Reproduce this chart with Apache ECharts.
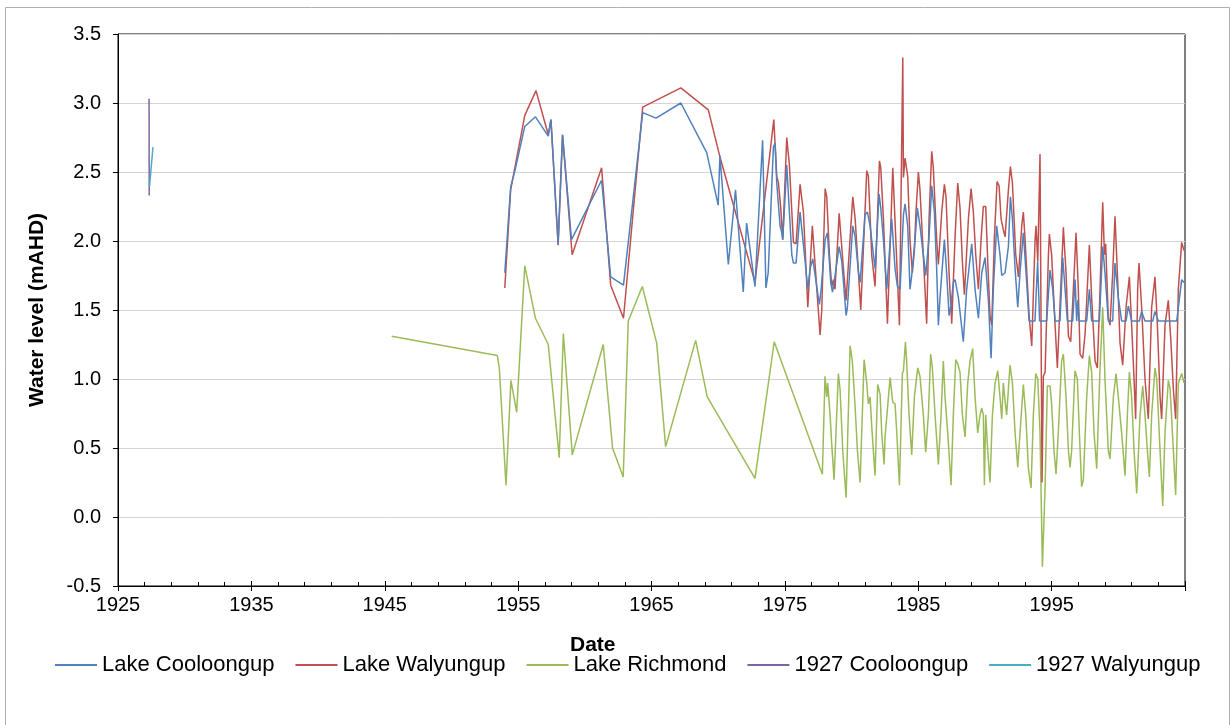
<!DOCTYPE html>
<html>
<head>
<meta charset="utf-8">
<script src="https://cdn.jsdelivr.net/npm/echarts@6/dist/echarts.min.js"></script>
<style>
html,body{margin:0;padding:0;background:#fff;}
#chart{width:1231px;height:725px;}
</style>
</head>
<body>
<div id="chart"></div>
<script>
// ---- data: [decimal year, water level mAHD] ----
var seriesNames = ['Lake Cooloongup', 'Lake Walyungup', 'Lake Richmond', '1927 Cooloongup', '1927 Walyungup'];
var yTicks = [-0.5, 0.0, 0.5, 1.0, 1.5, 2.0, 2.5, 3.0, 3.5];
var xTicks = [1925, 1935, 1945, 1955, 1965, 1975, 1985, 1995];

var cooloongup = [
[1954.00,1.77],[1954.44,2.39],[1954.76,2.51],[1955.50,2.83],[1956.30,2.90],[1957.26,2.76],[1957.46,2.88],[1958.00,1.98],[1958.33,2.77],[1959.00,2.01],
[1961.26,2.44],[1961.94,1.74],[1962.90,1.68],[1964.34,2.93],[1965.34,2.89],[1967.20,3.00],[1969.14,2.64],[1970.00,2.26],[1970.13,2.62],[1970.76,1.83],
[1971.30,2.37],[1971.88,1.63],[1972.13,2.13],[1972.76,1.67],[1973.33,2.73],[1973.58,1.66],[1973.75,1.77],
[1974.14,2.68],[1974.27,2.71],[1974.39,2.42],[1974.52,2.42],[1974.64,2.11],[1974.77,2.06],[1974.84,2.01],[1975.14,2.55],[1975.19,2.54],[1975.52,1.90],
[1975.64,1.84],[1975.84,1.84],[1976.14,2.21],[1976.52,1.85],[1976.72,1.65],[1976.89,1.80],[1977.09,1.87],[1977.39,1.67],[1977.59,1.54],[1977.72,1.65],
[1978.02,2.01],[1978.19,2.06],[1978.44,1.70],[1978.57,1.63],[1978.69,1.70],[1979.07,1.96],[1979.27,1.85],[1979.59,1.46],[1979.69,1.52],[1980.09,2.11],
[1980.27,2.03],[1980.52,1.77],[1980.64,1.70],[1981.01,2.19],[1981.19,2.21],[1981.39,2.11],[1981.64,1.90],[1981.77,1.80],[1982.06,2.34],[1982.19,2.24],
[1982.39,2.01],[1982.64,1.65],[1983.01,2.16],[1983.26,1.80],[1983.44,1.67],[1983.64,1.65],[1983.89,2.19],[1984.01,2.27],
[1984.21,2.11],[1984.38,1.65],[1984.51,1.75],[1984.76,2.01],[1984.93,2.24],[1985.13,2.11],[1985.38,1.90],[1985.56,1.75],[1985.81,2.03],[1986.01,2.40],
[1986.21,2.21],[1986.38,1.80],[1986.51,1.39],[1986.63,1.59],[1986.96,2.01],[1987.13,1.77],[1987.31,1.46],[1987.46,1.54],[1987.63,1.70],[1987.76,1.72],
[1988.01,1.59],[1988.38,1.27],[1988.63,1.65],[1989.01,1.98],[1989.26,1.65],[1989.51,1.44],[1989.76,1.77],[1990.01,1.88],[1990.26,1.57],[1990.46,1.15],
[1990.63,1.65],[1990.88,2.11],[1991.13,1.90],[1991.26,1.75],[1991.51,1.77],[1991.76,1.96],[1991.91,2.32],[1992.06,2.16],[1992.26,1.80],[1992.46,1.52],
[1992.63,1.77],[1992.88,2.06],[1993.13,1.70],[1993.31,1.42],[1993.75,1.42],[1993.95,1.85],[1994.10,1.42],
[1994.63,1.42],[1994.88,1.79],[1995.08,1.65],[1995.26,1.42],[1995.63,1.42],[1995.83,1.88],[1996.01,1.65],[1996.18,1.42],[1996.58,1.42],[1996.76,1.72],
[1996.88,1.42],[1996.96,1.57],[1997.05,1.42],[1997.63,1.42],[1997.83,1.65],[1998.00,1.42],[1998.58,1.42],[1998.83,1.96],[1999.00,1.77],[1999.25,1.42],
[1999.58,1.42],[1999.75,1.84],[2000.00,1.59],[2000.25,1.42],[2000.58,1.42],[2000.75,1.53],[2001.00,1.42],[2001.58,1.42],[2001.75,1.49],[2002.00,1.42],
[2002.58,1.42],[2002.75,1.49],[2003.00,1.42],[2004.38,1.42],[2004.75,1.72],[2004.93,1.70]
];

var walyungup = [
[1954.00,1.66],[1954.44,2.37],[1955.50,2.91],[1956.34,3.09],[1957.26,2.77],[1957.46,2.88],[1958.00,1.97],[1958.33,2.77],[1959.05,1.90],[1961.26,2.53],
[1961.94,1.68],[1962.90,1.44],[1964.34,2.97],[1967.20,3.11],[1969.26,2.95],[1970.13,2.61],[1972.76,1.70],[1974.17,2.88],
[1974.39,2.47],[1974.52,2.42],[1974.69,2.24],[1974.84,2.01],[1975.14,2.75],[1975.34,2.55],[1975.64,1.99],[1975.84,1.98],[1976.14,2.41],[1976.39,2.21],
[1976.72,1.52],[1977.06,2.11],[1977.44,1.59],[1977.64,1.32],[1977.76,1.49],[1978.02,2.38],[1978.14,2.32],[1978.34,1.90],[1978.51,1.67],[1978.64,1.72],
[1978.76,1.65],[1979.07,2.20],[1979.39,1.80],[1979.59,1.57],[1980.09,2.32],[1980.27,2.16],[1980.69,1.50],[1981.14,2.51],[1981.26,2.47],[1981.51,1.90],
[1981.76,1.67],[1982.09,2.58],[1982.19,2.53],[1982.39,2.16],[1982.69,1.40],[1983.09,2.53],[1983.59,1.39],[1983.84,3.33],[1983.89,2.46],[1984.01,2.60],
[1984.21,2.47],[1984.38,2.01],[1984.56,1.77],[1984.71,1.93],[1984.83,2.21],[1985.01,2.50],[1985.13,2.37],[1985.38,1.90],[1985.63,1.40],[1985.81,2.16],
[1986.01,2.65],[1986.13,2.53],[1986.38,2.01],[1986.51,1.83],[1986.76,2.21],[1986.96,2.41],[1987.08,2.32],[1987.31,1.77],[1987.51,1.40],[1987.76,2.03],
[1987.96,2.42],[1988.13,2.24],[1988.31,1.85],[1988.46,1.61],[1988.76,2.16],[1988.96,2.38],[1989.13,2.21],[1989.31,1.90],[1989.51,1.65],[1989.71,2.01],
[1989.88,2.25],[1990.06,2.25],[1990.21,1.85],[1990.38,1.46],[1990.51,1.39],[1990.71,2.03],[1990.91,2.43],[1991.06,2.40],[1991.21,2.16],[1991.38,2.08],
[1991.51,2.03],[1991.76,2.37],[1991.91,2.54],[1992.06,2.42],[1992.31,1.90],[1992.51,1.74],[1992.76,2.11],[1992.88,2.21],[1993.01,2.01],[1993.31,1.46],
[1993.51,1.24],[1993.76,2.01],[1993.83,2.11],[1993.96,1.85],[1994.13,2.63],[1994.28,0.25],
[1994.38,1.02],[1994.51,1.05],[1994.76,1.90],[1994.83,2.05],[1995.00,1.90],[1995.26,1.39],[1995.43,1.08],[1995.68,1.65],[1995.88,2.10],[1996.08,1.77],
[1996.26,1.31],[1996.43,1.27],[1996.63,1.65],[1996.83,2.06],[1997.00,1.65],[1997.13,1.18],[1997.33,1.15],[1997.51,1.33],[1997.83,1.97],[1998.00,1.59],
[1998.26,1.13],[1998.43,1.08],[1998.63,1.65],[1998.83,2.28],[1998.96,1.90],[1999.05,1.98],[1999.25,1.44],[1999.38,1.39],[1999.58,1.77],[1999.75,2.18],
[1999.93,1.77],[2000.13,1.26],[2000.33,1.10],[2000.58,1.52],[2000.83,1.74],[2001.00,1.39],[2001.18,1.00],[2001.30,0.71],[2001.45,1.65],[2001.55,1.84],
[2001.75,1.52],[2002.00,1.00],[2002.25,0.71],[2002.50,1.52],[2002.75,1.74],[2002.93,1.39],[2003.13,0.87],[2003.25,0.71],[2003.50,1.39],[2003.75,1.57],
[2003.95,1.26],[2004.13,0.92],[2004.30,0.71],[2004.50,1.65],[2004.75,1.99],[2004.93,1.93]
];

var richmond = [
[1945.52,1.31],[1953.44,1.17],[1953.59,1.08],[1954.09,0.23],[1954.46,0.99],[1954.89,0.76],[1955.50,1.82],[1956.30,1.44],[1957.26,1.25],[1958.08,0.43],
[1958.39,1.33],[1959.06,0.45],[1961.38,1.25],[1962.08,0.50],[1962.88,0.29],[1963.26,1.42],[1964.31,1.67],[1965.39,1.26],[1966.06,0.51],[1968.31,1.28],
[1969.18,0.87],[1972.76,0.28],[1974.20,1.27],
[1977.81,0.31],[1978.01,1.02],[1978.14,0.87],[1978.21,0.97],[1978.39,0.74],[1978.51,0.53],[1978.69,0.27],[1979.01,1.04],[1979.14,0.92],[1979.34,0.48],
[1979.59,0.14],[1979.89,1.24],[1980.06,1.13],[1980.27,0.79],[1980.44,0.48],[1980.64,0.25],[1980.94,1.14],[1981.14,0.97],[1981.26,0.82],[1981.39,0.87],
[1981.51,0.66],[1981.76,0.30],[1981.96,0.96],[1982.14,0.89],[1982.26,0.61],[1982.44,0.38],[1982.51,0.58],[1982.64,0.58],[1982.89,1.01],[1983.09,0.83],
[1983.26,0.82],[1983.39,0.61],[1983.59,0.23],[1983.81,1.04],[1983.89,1.06],[1984.04,1.27],
[1984.13,1.13],[1984.31,0.74],[1984.51,0.45],[1984.71,0.87],[1984.96,1.08],[1985.13,1.02],[1985.38,0.74],[1985.56,0.47],[1985.76,0.74],[1985.93,1.18],
[1986.06,1.08],[1986.26,0.74],[1986.51,0.38],[1986.71,0.74],[1986.88,1.13],[1987.01,0.87],[1987.21,0.61],[1987.46,0.23],[1987.63,0.74],[1987.81,1.14],
[1987.96,1.11],[1988.13,1.05],[1988.31,0.74],[1988.51,0.58],[1988.71,0.97],[1988.88,1.13],[1989.08,1.22],[1989.26,0.87],[1989.46,0.61],[1989.63,0.74],
[1989.76,0.79],[1989.88,0.74],[1989.96,0.23],[1990.06,0.74],[1990.21,0.48],[1990.38,0.25],[1990.56,0.74],[1990.76,0.97],[1990.96,1.06],[1991.13,0.87],
[1991.26,0.71],[1991.38,0.97],[1991.51,0.84],[1991.63,0.74],[1991.88,1.10],[1992.06,0.97],[1992.26,0.61],[1992.46,0.36],[1992.63,0.61],[1992.88,0.96],
[1993.06,0.74],[1993.26,0.35],[1993.46,0.21],[1993.63,0.74],[1993.81,1.04],[1993.96,1.00],[1994.13,0.61],[1994.31,-0.36],
[1994.51,0.22],[1994.68,0.95],[1994.88,0.95],[1995.00,0.82],[1995.18,0.48],[1995.33,0.31],[1995.50,0.61],[1995.75,1.13],[1995.88,1.18],[1996.08,0.87],
[1996.26,0.48],[1996.38,0.36],[1996.50,0.48],[1996.75,1.06],[1996.93,1.00],[1997.08,0.61],[1997.25,0.22],[1997.38,0.27],[1997.63,0.87],[1997.83,1.17],
[1998.00,1.05],[1998.18,0.61],[1998.38,0.35],[1998.63,1.08],[1998.83,1.52],[1999.00,1.00],[1999.25,0.48],[1999.38,0.42],[1999.63,0.87],[1999.83,1.04],
[2000.00,0.87],[2000.25,0.61],[2000.50,0.30],[2000.68,0.74],[2000.83,1.05],[2001.00,0.87],[2001.18,0.48],[2001.38,0.17],[2001.63,0.74],[2001.83,0.95],
[2002.00,0.74],[2002.18,0.48],[2002.33,0.29],[2002.50,0.74],[2002.75,1.08],[2002.88,1.00],[2003.13,0.48],[2003.33,0.08],[2003.50,0.61],[2003.75,0.99],
[2003.88,0.93],[2004.13,0.48],[2004.30,0.16],[2004.50,0.97],[2004.75,1.04],[2004.93,0.97]
];

var cooloongup1927 = [[1927.33,3.03],[1927.34,2.33]];
var walyungup1927 = [[1927.37,2.40],[1927.62,2.68]];

var colors = ['#4F81BD', '#C0504D', '#9BBB59', '#8064A2', '#4BACC6'];

// ---- chart ----
var FONT = '"Liberation Sans", Arial, sans-serif';
var chart = echarts.init(document.getElementById('chart'), null, {renderer: 'canvas'});
var dataSets = [cooloongup, walyungup, richmond, cooloongup1927, walyungup1927];

var option = {
  animation: false,
  backgroundColor: '#ffffff',
  color: colors,
  textStyle: {fontFamily: FONT},
  grid: {left: 118, right: 46, top: 34, bottom: 139, show: true, borderColor: '#000', borderWidth: 1, backgroundColor: 'transparent'},
  legend: {
    left: 50, top: 649,
    itemWidth: 42, itemHeight: 2, itemGap: 21,
    icon: 'rect',
    textStyle: {fontSize: 22, color: '#000', fontFamily: FONT},
    data: seriesNames
  },
  xAxis: [{
    type: 'value', min: 1925, max: 2005, interval: 10,
    axisLine: {show: true, onZero: false, lineStyle: {color: '#000', width: 1}},
    axisTick: {show: true, inside: true, length: 5, lineStyle: {color: '#000'}},
    minorTick: {show: true, splitNumber: 5, length: 4, lineStyle: {color: '#000'}},
    axisLabel: {
      fontSize: 20, color: '#000', margin: 9, fontFamily: FONT,
      formatter: function (v) { return xTicks.indexOf(v) >= 0 ? String(v) : ''; }
    },
    splitLine: {show: false}
  }, {
    type: 'value', min: 1925, max: 2005, interval: 10, position: 'bottom',
    axisLine: {show: false, onZero: false},
    axisTick: {show: true, inside: false, length: 5, lineStyle: {color: '#000'}},
    axisLabel: {show: false},
    splitLine: {show: false}
  }],
  yAxis: {
    type: 'value', min: yTicks[0], max: yTicks[yTicks.length - 1], interval: 0.5,
    name: 'Water level (mAHD)', nameLocation: 'middle', nameGap: 70,
    nameTextStyle: {fontSize: 21, fontWeight: 'bold', color: '#000', fontFamily: FONT},
    axisLine: {show: true, onZero: false, lineStyle: {color: '#000', width: 1}},
    axisTick: {show: true, inside: false, length: 5, lineStyle: {color: '#000'}},
    axisLabel: {fontSize: 20, color: '#000', margin: 17, fontFamily: FONT,
      formatter: function (v) { return v.toFixed(1); }},
    splitLine: {show: true, lineStyle: {color: '#d4d4d4', width: 1}}
  },
  graphic: [
    {type: 'rect', left: 3, top: 5, shape: {x: 0, y: 0, width: 1224, height: 730},
     style: {fill: 'none', stroke: '#b0b0b0', lineWidth: 1}, silent: true, z: -1},
    {type: 'text', left: 594 - 24, top: 635,
     style: {text: 'Date', font: 'bold 21px ' + FONT, fill: '#000'}}
  ],
  series: dataSets.map(function (d, i) {
    return {
      name: seriesNames[i], type: 'line', data: d,
      xAxisIndex: 0, yAxisIndex: 0,
      symbol: 'none', showSymbol: false,
      lineStyle: {width: 1.5, color: colors[i]},
      itemStyle: {color: colors[i]},
      z: i === 0 ? 4 : (i === 1 ? 3 : 2)
    };
  })
};
chart.setOption(option);
</script>
</body>
</html>
